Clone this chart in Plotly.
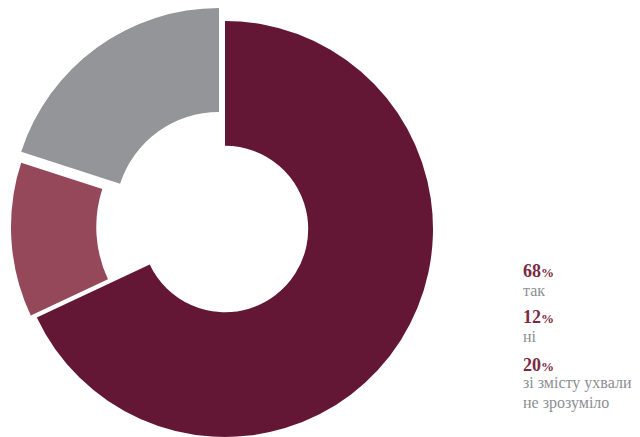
import plotly.graph_objects as go

labels = ["так", "ні", "зі змісту ухвали не зрозуміло"]
label_lines = [["так"], ["ні"], ["зі змісту ухвали", "не зрозуміло"]]
values = [68, 12, 20]
colors = ["#631734", "#95485a", "#939598"]
holes = [0.4, 0.59, 0.5]

W, H = 640, 437
OFF = 8  # default page body margin
R = 208
# slice centres in page pixels (x from left, y from top)
centres = [(225, 229), (219, 227), (219, 216)]

fig = go.Figure()
for i in range(len(values)):
    cx, cy = centres[i][0] - OFF, centres[i][1] - OFF
    cyb = H - cy
    slice_colors = ["rgba(0,0,0,0)"] * len(values)
    slice_colors[i] = colors[i]
    y0 = max(0, (cyb - R) / H)
    y1 = min(1, (cyb + R) / H)
    fig.add_trace(go.Pie(
        labels=labels,
        values=values,
        sort=False,
        direction="clockwise",
        rotation=0,
        hole=holes[i],
        marker=dict(colors=slice_colors, line=dict(width=0)),
        textinfo="none",
        hoverinfo="skip",
        showlegend=False,
        domain=dict(x=[(cx - R) / W, (cx + R) / W], y=[y0, y1]),
    ))

num_y = [271, 317, 365]
lab_y = [[290], [336], [383, 403]]
anns = []
for i in range(len(values)):
    anns.append(dict(
        x=(521 - OFF) / W, y=1 - (num_y[i] - OFF) / H, xref="paper", yref="paper",
        xanchor="left", yanchor="middle", showarrow=False, align="left",
        text="<b>%d</b><span style='font-size:13px'><b>%%</b></span>" % values[i],
        font=dict(family="Liberation Serif", size=18, color="#7a2a42"),
    ))
    for line, ly in zip(label_lines[i], lab_y[i]):
        anns.append(dict(
            x=(521 - OFF) / W, y=1 - (ly - OFF) / H, xref="paper", yref="paper",
            xanchor="left", yanchor="middle", showarrow=False, align="left",
            text=line,
            font=dict(family="Liberation Serif", size=16, color="#8c8f93"),
        ))

fig.update_layout(
    width=W, height=H,
    margin=dict(l=0, r=0, t=0, b=0),
    paper_bgcolor="white", plot_bgcolor="white",
    annotations=anns,
)
fig.write_html("out.html")
